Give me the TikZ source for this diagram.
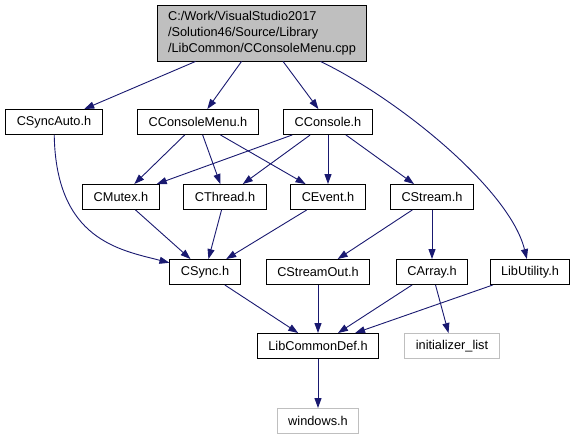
\documentclass[tikz,border=0pt]{standalone}
\usepackage{fontspec}
\setmainfont{Liberation Sans}
\usetikzlibrary{arrows.meta}
\definecolor{edgeblue}{RGB}{25,25,112}
\definecolor{extgray}{RGB}{191,191,191}

\begin{document}
\begin{tikzpicture}[x=1bp,y=-1bp,
  file/.style={draw=black,line width=0.9bp,minimum height=25bp,inner xsep=11bp,inner ysep=0bp,
    font=\fontsize{12.8}{15}\selectfont},
  extfile/.style={file,draw=extgray},
  dep/.style={draw=edgeblue,line width=0.9bp,-{Triangle[length=10bp,width=7bp]}}]
  \useasboundingbox (0,0) rectangle (581,440);
  % source file
  \node[file,fill=extgray,align=left,minimum height=56bp,font=\fontsize{12.8}{16}\selectfont] (root) at (262,33)
    {C:/Work/VisualStudio2017\\/Solution46/Source/Library\\/LibCommon/CConsoleMenu.cpp};
  % headers
  \node[file] (syncauto) at (54,122) {CSyncAuto.h};
  \node[file] (consolemenu) at (198,122) {CConsoleMenu.h};
  \node[file] (console) at (328,122) {CConsole.h};
  \node[file] (mutex) at (121,197) {CMutex.h};
  \node[file] (thread) at (225,197) {CThread.h};
  \node[file] (event) at (328,197) {CEvent.h};
  \node[file] (stream) at (432,197) {CStream.h};
  \node[file] (sync) at (205,272) {CSync.h};
  \node[file] (streamout) at (318,272) {CStreamOut.h};
  \node[file] (array) at (432,272) {CArray.h};
  \node[file] (libutility) at (530,272) {LibUtility.h};
  \node[file] (libcommondef) at (318,346) {LibCommonDef.h};
  \node[extfile] (initlist) at (452,346) {initializer\_list};
  \node[extfile] (windows) at (318,421) {windows.h};

  % includes
  \draw[dep] (root) -- (syncauto);
  \draw[dep] (root) -- (consolemenu);
  \draw[dep] (root) -- (console);
  \draw[dep] (root) .. controls (400,100) and (510,190) .. (libutility);
  \draw[dep] (syncauto) .. controls (56,240) and (120,250) .. (sync);
  \draw[dep] (consolemenu) -- (mutex);
  \draw[dep] (consolemenu) -- (thread);
  \draw[dep] (consolemenu) -- (event);
  \draw[dep] (console) -- (mutex);
  \draw[dep] (console) -- (thread);
  \draw[dep] (console) -- (event);
  \draw[dep] (console) -- (stream);
  \draw[dep] (mutex) -- (sync);
  \draw[dep] (thread) -- (sync);
  \draw[dep] (event) -- (sync);
  \draw[dep] (stream) -- (streamout);
  \draw[dep] (stream) -- (array);
  \draw[dep] (sync) -- (libcommondef);
  \draw[dep] (streamout) -- (libcommondef);
  \draw[dep] (array) -- (libcommondef);
  \draw[dep] (libutility) -- (libcommondef);
  \draw[dep] (array) -- (initlist);
  \draw[dep] (libcommondef) -- (windows);
\end{tikzpicture}
\end{document}
